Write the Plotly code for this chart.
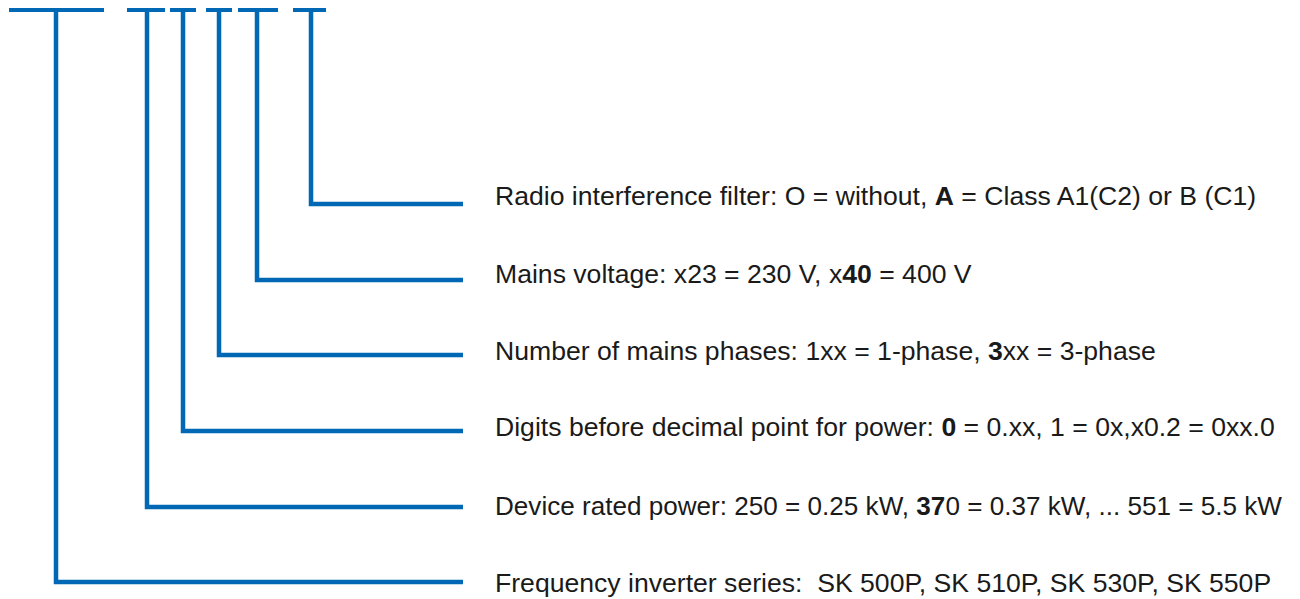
import plotly.graph_objects as go

# Key segments (top code markers) : left/right extent and stem position
seg_left = [9, 127, 170, 206, 238, 293]
seg_right = [104, 165, 196, 232, 278, 326]
stem_x = [56, 147, 183, 219, 257, 311]
# Rows (bottom-up ordering matches stems): y of the horizontal leader
row_y = [582, 507, 431, 355, 280, 204]
# y of the label text (centre of capitals)
label_y = [583, 505.5, 427, 351, 274, 196]
labels = [
    "Frequency inverter series:  SK 500P, SK 510P, SK 530P, SK 550P",
    "Device rated power: 250 = 0.25 kW, <b>37</b>0 = 0.37 kW, ... 551 = 5.5 kW",
    "Digits before decimal point for power: <b>0</b> = 0.xx, 1 = 0x,x0.2 = 0xx.0",
    "Number of mains phases: 1xx = 1-phase, <b>3</b>xx = 3-phase",
    "Mains voltage: x23 = 230 V, x<b>40</b> = 400 V",
    "Radio interference filter: O = without, <b>A</b> = Class A1(C2) or B (C1)",
]
font_sizes = [26.6, 26.1, 26.6, 26.6, 26.6, 26.6]

TOP_Y = 10
LEADER_END = 463
TEXT_X = 493
BLUE = "#0068b4"
OFF = 8  # page body margin

fig = go.Figure()

bx, by = [], []
for l, r in zip(seg_left, seg_right):
    bx += [l, r, None]
    by += [TOP_Y, TOP_Y, None]
fig.add_trace(go.Scatter(x=bx, y=by, mode="lines", line=dict(color=BLUE, width=4),
                         hoverinfo="skip", showlegend=False))

for sx, ry in zip(stem_x, row_y):
    fig.add_trace(go.Scatter(x=[sx, sx, LEADER_END], y=[TOP_Y, ry, ry], mode="lines",
                             line=dict(color=BLUE, width=4.5), hoverinfo="skip",
                             showlegend=False))

for ly, lab, fs in zip(label_y, labels, font_sizes):
    fig.add_annotation(x=TEXT_X, y=ly, xref="x", yref="y", text=lab,
                       showarrow=False, xanchor="left", yanchor="middle",
                       font=dict(family="Liberation Sans, Arial, sans-serif",
                                 size=fs, color="#1a1a1a"))

fig.update_layout(
    width=1300 - OFF, height=599 - OFF,
    margin=dict(l=0, r=0, t=0, b=0),
    paper_bgcolor="white", plot_bgcolor="white",
    xaxis=dict(range=[OFF, 1300], visible=False, fixedrange=True),
    yaxis=dict(range=[599, OFF], visible=False, fixedrange=True),
)

fig.write_html("out.html")
